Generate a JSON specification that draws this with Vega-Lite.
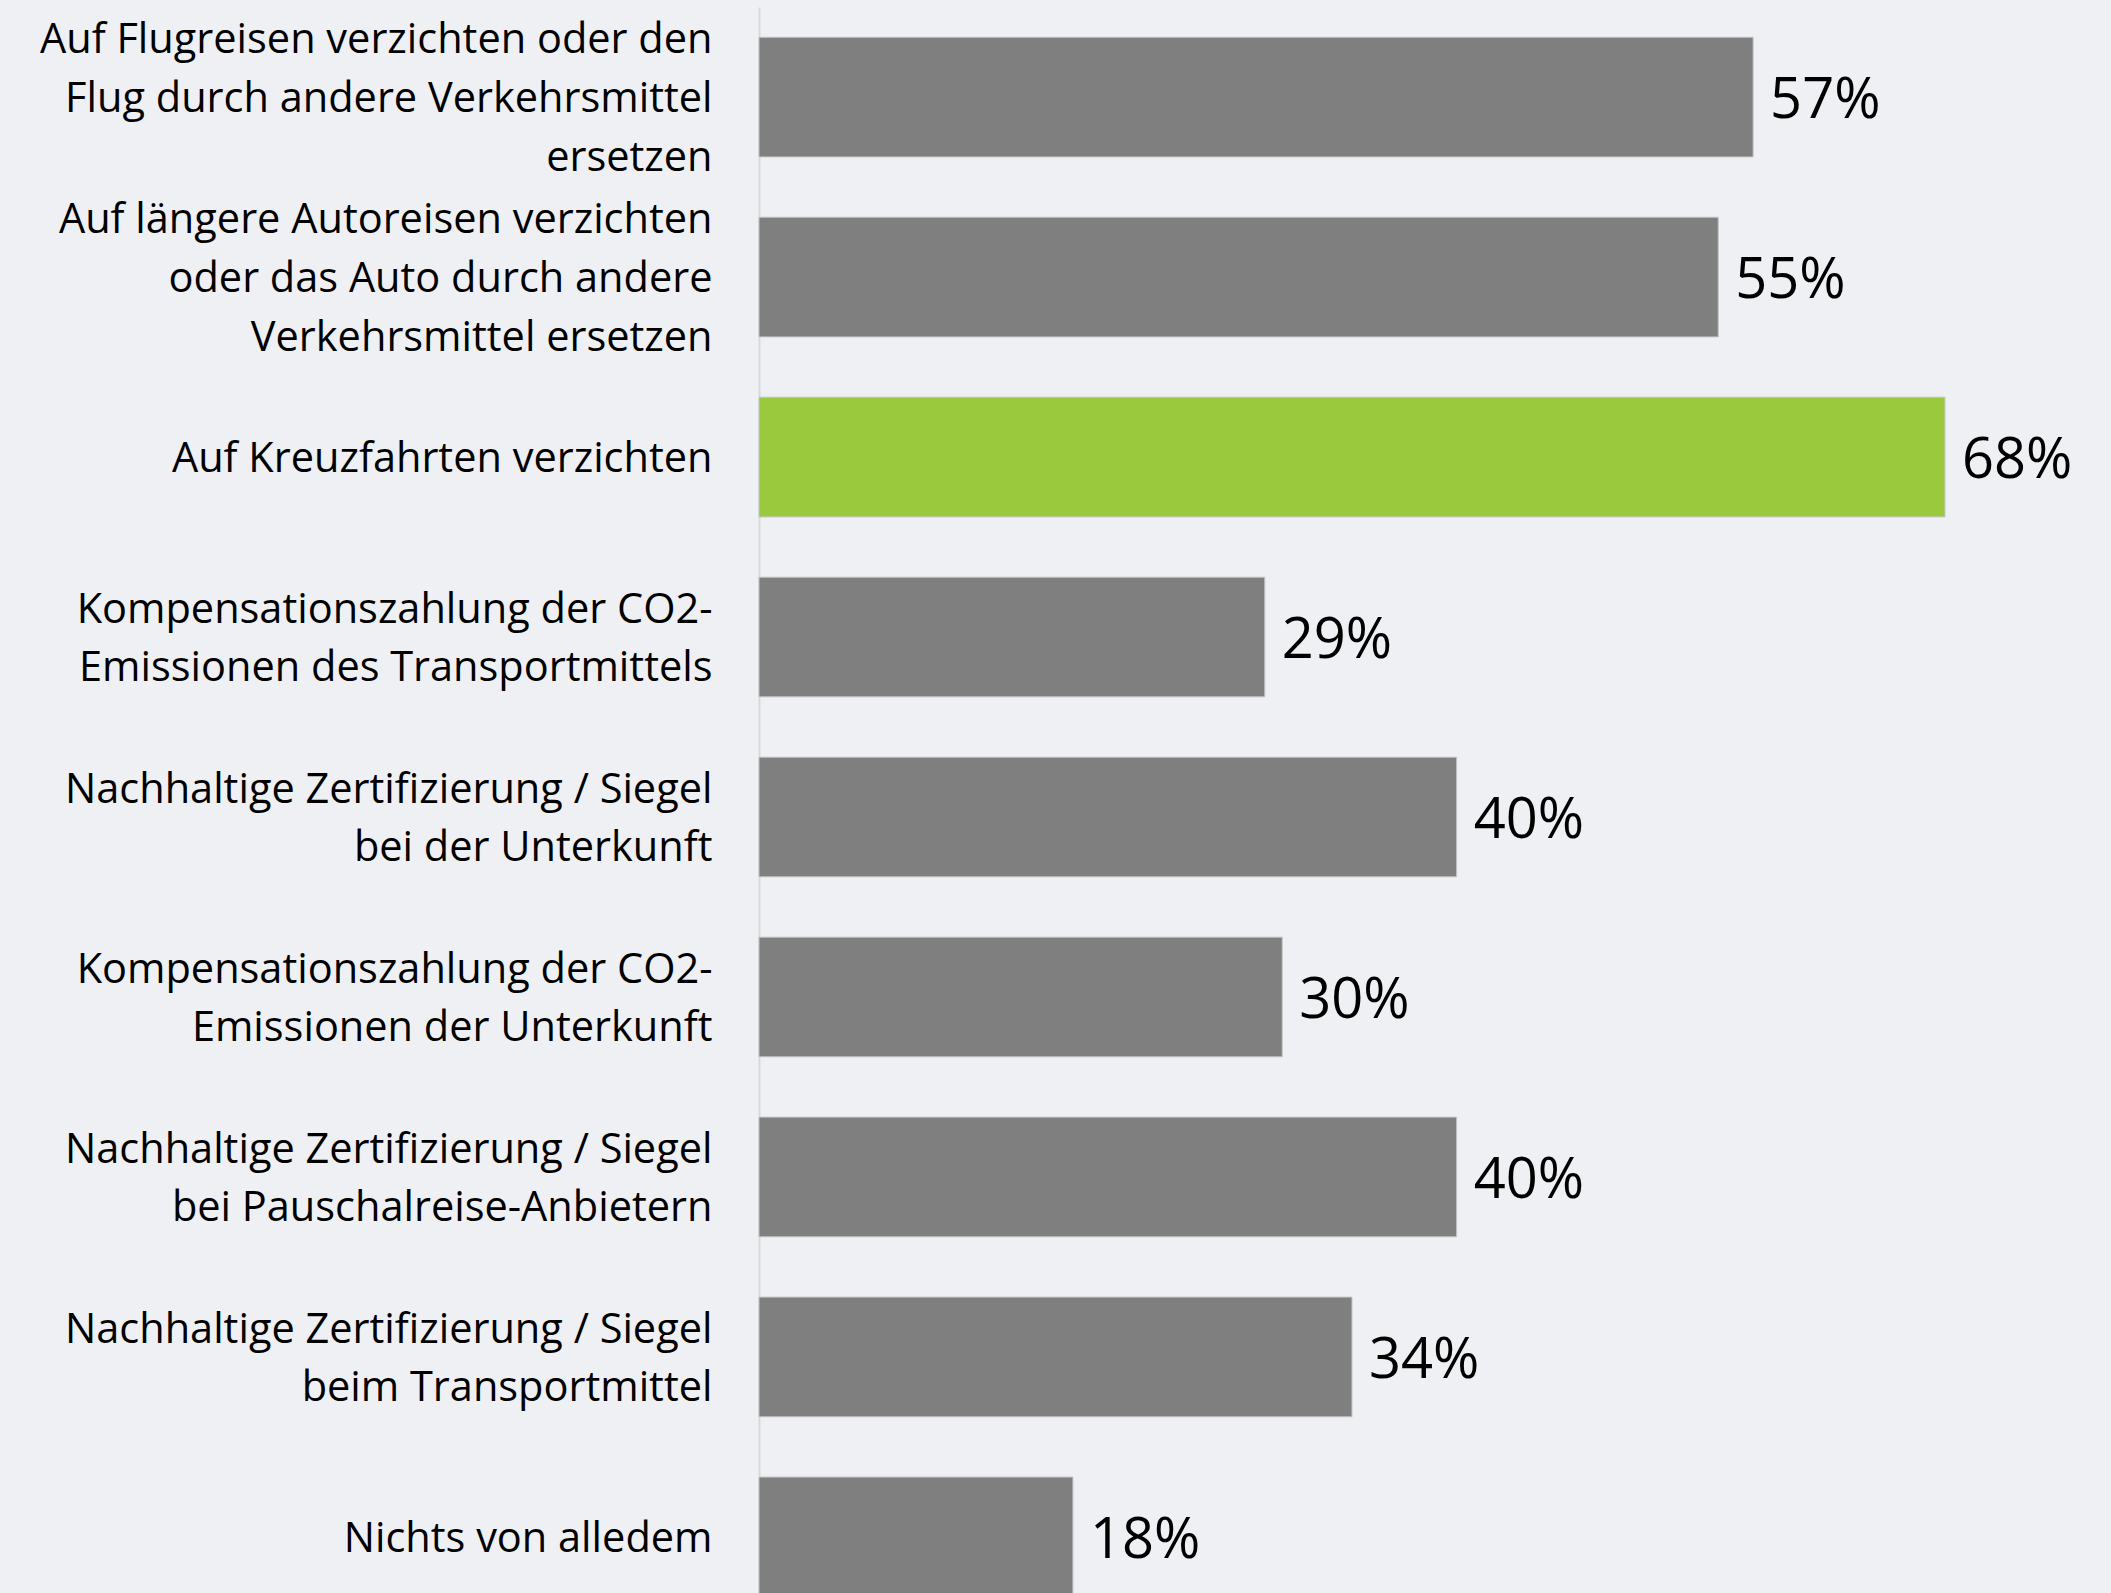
{
  "$schema": "https://vega.github.io/schema/vega-lite/v6.json",
  "autosize": {"type": "none"},
  "padding": {"left": 759, "top": 7, "right": 0, "bottom": 0},
  "width": 1352,
  "height": 1586,
  "background": "#eff0f4",
  "config": {"view": {"stroke": null}},
  "data": {
    "values": [
      {"kategorie": "Auf Flugreisen verzichten oder den|Flug durch andere Verkehrsmittel|ersetzen", "anteil": 0.57},
      {"kategorie": "Auf längere Autoreisen verzichten|oder das Auto durch andere|Verkehrsmittel ersetzen", "anteil": 0.55},
      {"kategorie": "Auf Kreuzfahrten verzichten", "anteil": 0.68},
      {"kategorie": "Kompensationszahlung der CO2-|Emissionen des Transportmittels", "anteil": 0.29},
      {"kategorie": "Nachhaltige Zertifizierung / Siegel|bei der Unterkunft", "anteil": 0.40},
      {"kategorie": "Kompensationszahlung der CO2-|Emissionen der Unterkunft", "anteil": 0.30},
      {"kategorie": "Nachhaltige Zertifizierung / Siegel|bei Pauschalreise-Anbietern", "anteil": 0.40},
      {"kategorie": "Nachhaltige Zertifizierung / Siegel|beim Transportmittel", "anteil": 0.34},
      {"kategorie": "Nichts von alledem", "anteil": 0.18}
    ]
  },
  "encoding": {
    "y": {
      "field": "kategorie",
      "type": "nominal",
      "sort": null,
      "scale": {"range": [0, 1620], "paddingInner": 0.335, "paddingOuter": 0.168},
      "axis": {
        "title": null,
        "ticks": false,
        "tickSize": 0,
        "domain": true,
        "domainColor": "#d9d9d9",
        "domainWidth": 2,
        "labelPadding": 47,
        "labelLimit": 0,
        "labelFont": "Open Sans",
        "labelFontSize": 41.5,
        "labelColor": "#000000",
        "labelLineHeight": 58.6,
        "labelOffset": {
          "condition": [
            {"test": "length(split(datum.value, '|')) === 3", "value": -55.6},
            {"test": "length(split(datum.value, '|')) === 2", "value": -26.3}
          ],
          "value": 3
        },
        "labelExpr": "split(datum.label, '|')"
      }
    },
    "x": {
      "field": "anteil",
      "type": "quantitative",
      "scale": {"domain": [0, 0.7752], "nice": false, "zero": true},
      "axis": null
    }
  },
  "layer": [
    {
      "mark": {"type": "bar", "stroke": "#c4c4c4", "strokeWidth": 1},
      "encoding": {
        "color": {
          "condition": {"test": "datum.kategorie === 'Auf Kreuzfahrten verzichten'", "value": "#9bc93d"},
          "value": "#7f7f7f"
        }
      }
    },
    {
      "mark": {"type": "text", "align": "left", "baseline": "middle", "dx": 17, "dy": 4, "font": "Open Sans", "fontSize": 56, "color": "#000000"},
      "encoding": {
        "text": {"field": "anteil", "type": "quantitative", "format": ".0%"}
      }
    }
  ]
}
